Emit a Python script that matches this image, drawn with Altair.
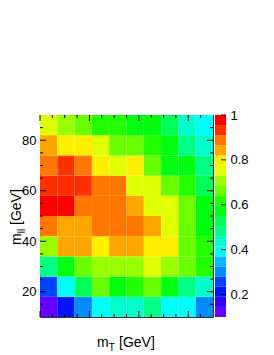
import altair as alt
import pandas as pd
import colorsys

# bin edges
mt_edges = [60, 67, 74, 81, 88, 95, 102, 109, 116, 123, 130]
mll_edges = [10, 18, 26, 34, 42, 50, 58, 66, 74, 82, 90]

# efficiency per m_ll row (bottom to top), values along m_T
eff_mll_10_18 = [0.12, 0.21, 0.30, 0.39, 0.44, 0.44, 0.48, 0.39, 0.39, 0.30]
eff_mll_18_26 = [0.26, 0.39, 0.53, 0.66, 0.57, 0.62, 0.66, 0.57, 0.48, 0.44]
eff_mll_26_34 = [0.48, 0.57, 0.66, 0.71, 0.71, 0.71, 0.75, 0.71, 0.66, 0.62]
eff_mll_34_42 = [0.71, 0.84, 0.84, 0.80, 0.84, 0.84, 0.80, 0.80, 0.66, 0.62]
eff_mll_42_50 = [0.89, 0.84, 0.84, 0.89, 0.89, 0.89, 0.84, 0.75, 0.66, 0.57]
eff_mll_50_58 = [0.98, 0.98, 0.89, 0.89, 0.89, 0.84, 0.75, 0.75, 0.66, 0.57]
eff_mll_58_66 = [0.93, 0.93, 0.93, 0.89, 0.89, 0.75, 0.75, 0.66, 0.62, 0.53]
eff_mll_66_74 = [0.89, 0.93, 0.89, 0.80, 0.75, 0.80, 0.66, 0.57, 0.57, 0.48]
eff_mll_74_82 = [0.84, 0.80, 0.80, 0.75, 0.66, 0.66, 0.62, 0.57, 0.48, 0.44]
eff_mll_82_90 = [0.75, 0.71, 0.66, 0.62, 0.62, 0.57, 0.57, 0.53, 0.44, 0.39]

rows = [eff_mll_10_18, eff_mll_18_26, eff_mll_26_34, eff_mll_34_42, eff_mll_42_50,
        eff_mll_50_58, eff_mll_58_66, eff_mll_66_74, eff_mll_74_82, eff_mll_82_90]

x_labels = [60, 80, 100, 120]
y_labels = [20, 40, 60, 80]
x_minor = [65, 70, 75, 85, 90, 95, 105, 110, 115, 125]
y_minor = [15, 25, 30, 35, 45, 50, 55, 65, 70, 75, 85]
z_labels = [0.2, 0.4, 0.6, 0.8, 1.0]
z_min, z_max, n_contours = 0.1, 1.0, 20

# ROOT-style rainbow palette (violet -> red)
hues = [280 - (int((k + 0.99) * 50 / n_contours) + 1) * 5.6 for k in range(n_contours)]
hues[-1] = 0
palette = []
for h in hues:
    r, g, b = colorsys.hls_to_rgb(max(h, 0) / 360.0, 0.5, 1.0)
    palette.append('#%02x%02x%02x' % (round(r * 255), round(g * 255), round(b * 255)))

recs = []
for j, row in enumerate(rows):
    for i, v in enumerate(row):
        recs.append({'x0': mt_edges[i], 'x1': mt_edges[i + 1],
                     'y0': mll_edges[j], 'y1': mll_edges[j + 1], 'eff': v})
df = pd.DataFrame(recs)

step = (z_max - z_min) / n_contours
bands = pd.DataFrame({'lo': [z_min + k * step for k in range(n_contours)],
                      'hi': [z_min + (k + 1) * step for k in range(n_contours)],
                      'mid': [z_min + (k + 0.5) * step for k in range(n_contours)]})

W, H = 173, 202
FONT = 'Liberation Sans'
xs = alt.Scale(domain=[60, 130], nice=False, zero=False)
ys = alt.Scale(domain=[10, 90], nice=False, zero=False)
zs = alt.Scale(domain=[z_min, z_max], nice=False, zero=False)
cs = alt.Scale(type='quantize', domain=[z_min, z_max], range=palette)

cells = alt.Chart(df).mark_rect(strokeWidth=0).encode(
    x=alt.X('x0:Q', scale=xs, axis=alt.Axis(values=x_labels, title=None, ticks=False,
                                           domain=False, grid=False, labelPadding=3)),
    x2='x1:Q',
    y=alt.Y('y0:Q', scale=ys, axis=alt.Axis(values=y_labels, title=None, ticks=False,
                                           domain=False, grid=False, labelPadding=4)),
    y2='y1:Q',
    color=alt.Color('eff:Q', scale=cs, legend=None),
)

def xticks(vals, ln):
    d = alt.Chart(pd.DataFrame({'v': vals})).mark_rule(color='black', strokeWidth=1)
    bot = d.encode(x=alt.X('v:Q', scale=xs, axis=None), y=alt.value(H), y2=alt.value(H - ln))
    top = d.encode(x=alt.X('v:Q', scale=xs, axis=None), y=alt.value(0), y2=alt.value(ln))
    return [bot, top]

def yticks(vals, ln):
    d = alt.Chart(pd.DataFrame({'v': vals})).mark_rule(color='black', strokeWidth=1)
    lft = d.encode(y=alt.Y('v:Q', scale=ys, axis=None), x=alt.value(0), x2=alt.value(ln))
    rgt = d.encode(y=alt.Y('v:Q', scale=ys, axis=None), x=alt.value(W - ln), x2=alt.value(W))
    return [lft, rgt]

one = pd.DataFrame({'a': [0]})
def txt(s, x, y, size, angle=0, align='left'):
    return alt.Chart(one).mark_text(text=s, font=FONT, fontSize=size, angle=angle,
                                    align=align, baseline='alphabetic', color='black').encode(
        x=alt.value(x), y=alt.value(y))

titles = [
    txt('m', 57, 232, 14),
    txt('T', 68.8, 235.5, 10),
    txt('[GeV]', 79, 232, 14),
    txt('m', -19, 130, 14, angle=270),
    txt('ll', -15.5, 118.2, 10, angle=270),
    txt('[GeV]', -19, 110, 14, angle=270),
]

cbar = alt.Chart(bands).mark_rect(strokeWidth=0).encode(
    x=alt.value(175), x2=alt.value(186),
    y=alt.Y('lo:Q', scale=zs, axis=alt.Axis(values=z_labels, orient='right', offset=13,
                                           title=None, ticks=False, domain=False, grid=False,
                                           labelPadding=4, format='~g')),
    y2='hi:Q',
    color=alt.Color('mid:Q', scale=cs, legend=None),
)
cbar_ticks = alt.Chart(pd.DataFrame({'v': z_labels})).mark_rule(color='black', strokeWidth=1).encode(
    y=alt.Y('v:Q', scale=zs, axis=None), x=alt.value(181), x2=alt.value(186))

layers = [cells] + xticks(x_labels, 6) + xticks(x_minor, 3) + yticks(y_labels, 6) + yticks(y_minor, 3) + titles + [cbar, cbar_ticks]

chart = alt.layer(*layers).resolve_scale(y='independent').properties(
    width=W, height=H,
    padding={'left': 2, 'top': 101, 'right': 0, 'bottom': 0},
).configure_axis(
    labelFont=FONT, labelFontSize=13, labelColor='black'
).configure_view(stroke='#333', strokeWidth=1)

chart.save("out.html", embed_options={"renderer": "svg", "actions": False})
